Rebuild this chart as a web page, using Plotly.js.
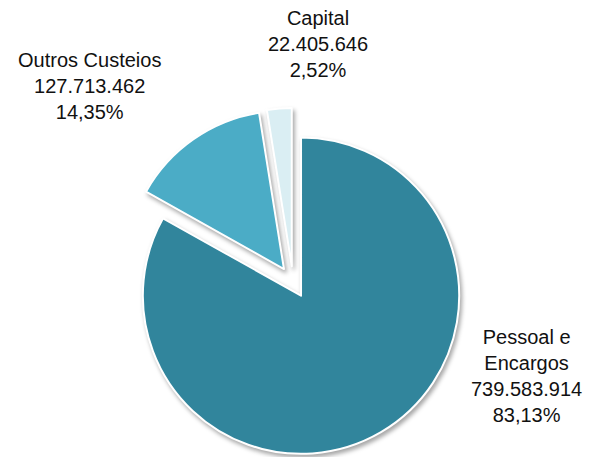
<!DOCTYPE html>
<html>
<head>
<meta charset="utf-8">
<script src="https://cdn.plot.ly/plotly-3.0.1.min.js"></script>
<style>
  html, body { margin: 0; padding: 0; background: #fff; overflow: hidden; }
  #chart { width: 589px; height: 457px; }
  g.slice path.surface { filter: drop-shadow(2px 3px 2px rgba(0,0,0,0.35)); }
</style>
</head>
<body>
<div id="chart"></div>
<script>
const categories = ["Pessoal e<br>Encargos", "Outros Custeios", "Capital"];
const values = [739583914, 127713462, 22405646];
const valueLabels = ["739.583.914", "127.713.462", "22.405.646"];
const percentLabels = ["83,13%", "14,35%", "2,52%"];
const colors = ["#31859C", "#4BACC6", "#DAEEF3"];

const labelPos = [
  {x: 526 / 589, y: 1 - 376 / 457},
  {x: 89 / 589, y: 1 - 86 / 457},
  {x: 318 / 589, y: 1 - 44 / 457}
];

const trace = {
  type: "pie",
  labels: categories,
  values: values,
  sort: false,
  direction: "clockwise",
  rotation: 0,
  pull: [0.1, 0.1, 0.1],
  textinfo: "none",
  hoverinfo: "label+value+percent",
  marker: { colors: colors, line: { color: "#ffffff", width: 2 } },
  domain: { x: [0, 0.995], y: [1 - 456 / 457, 1 - 108 / 457] },
  showlegend: false
};

const annotations = categories.map((c, i) => ({
  xref: "paper", yref: "paper",
  x: labelPos[i].x, y: labelPos[i].y,
  xanchor: "center", yanchor: "middle",
  showarrow: false,
  align: "center",
  text: c + "<br>" + valueLabels[i] + "<br>" + percentLabels[i],
  font: { family: "Liberation Sans, Arial, sans-serif", size: 20, color: "#111111" }
}));

const layout = {
  width: 589, height: 457,
  margin: { l: 0, r: 0, t: 0, b: 0 },
  paper_bgcolor: "#ffffff",
  plot_bgcolor: "#ffffff",
  showlegend: false,
  annotations: annotations
};

Plotly.newPlot("chart", [trace], layout, { displayModeBar: false, staticPlot: true });
</script>
</body>
</html>
